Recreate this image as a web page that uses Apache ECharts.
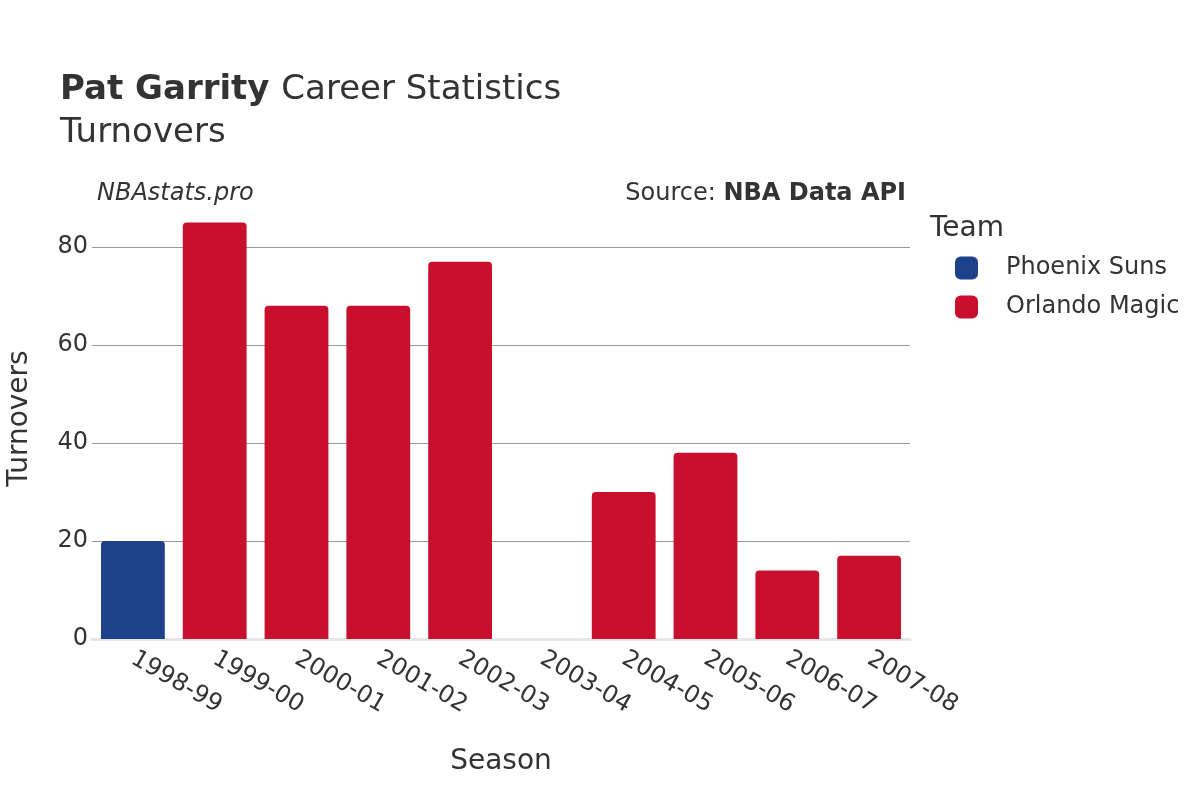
<!DOCTYPE html>
<html>
<head>
<meta charset="utf-8">
<script src="https://cdn.jsdelivr.net/npm/echarts@6/dist/echarts.min.js"></script>
<style>
html,body{margin:0;padding:0;background:#fff;}
#chart{width:1200px;height:800px;}
</style>
</head>
<body>
<div id="chart"></div>
<script>
const seasons = ['1998-99','1999-00','2000-01','2001-02','2002-03','2003-04','2004-05','2005-06','2006-07','2007-08'];
const phoenixSuns = [20, null, null, null, null, null, null, null, null, null];
const orlandoMagic = [null, 85, 68, 68, 77, null, 30, 38, 14, 17];
const yTicks = [0, 20, 40, 60, 80];

const FONT = 'DejaVu Sans';
const TXT = '#333333';

const chart = echarts.init(document.getElementById('chart'));
chart.setOption({
  backgroundColor: '#ffffff',
  animation: false,
  textStyle: { fontFamily: FONT },
  title: [
    {
      left: 60, top: 73, padding: 0,
      text: '{b|Pat Garrity }{n|Career Statistics}',
      textStyle: {
        fontWeight: 'normal',
        rich: {
          b: { fontFamily: FONT, fontSize: 34, fontWeight: 'bold', color: TXT },
          n: { fontFamily: FONT, fontSize: 34, fontWeight: 'normal', color: TXT }
        }
      }
    },
    {
      left: 60, top: 116, padding: 0,
      text: 'Turnovers',
      textStyle: { fontFamily: FONT, fontSize: 34, fontWeight: 'normal', color: TXT }
    },
    {
      left: 97, top: 182, padding: 0,
      text: 'NBAstats.pro',
      textStyle: { fontFamily: FONT, fontSize: 24, fontStyle: 'italic', fontWeight: 'normal', color: TXT }
    },
    {
      right: 294, top: 182, padding: 0,
      text: '{n|Source: }{b|NBA Data API}',
      textStyle: {
        fontWeight: 'normal',
        rich: {
          n: { fontFamily: FONT, fontSize: 24, fontWeight: 'normal', color: TXT },
          b: { fontFamily: FONT, fontSize: 24, fontWeight: 'bold', color: TXT }
        }
      }
    },
    {
      left: 930, top: 215, padding: 0,
      text: 'Team',
      textStyle: { fontFamily: FONT, fontSize: 28, fontWeight: 'normal', color: TXT }
    }
  ],
  legend: {
    orient: 'vertical',
    left: 955, top: 256, padding: 0,
    itemWidth: 23, itemHeight: 23, itemGap: 15,
    icon: 'roundRect',
    textStyle: { fontFamily: FONT, fontSize: 24, color: TXT, padding: [0, 0, 0, 23] },
    data: ['Phoenix Suns', 'Orlando Magic']
  },
  grid: { left: 92, right: 290, top: 198, bottom: 161, containLabel: false, outerBoundsMode: 'none' },
  xAxis: {
    type: 'category',
    data: seasons,
    name: 'Season',
    nameLocation: 'middle',
    nameGap: 109,
    nameTextStyle: { fontFamily: FONT, fontSize: 28, color: TXT },
    axisLine: { show: true, lineStyle: { color: '#e6e6e6', width: 3 } },
    axisTick: { show: false },
    axisLabel: { rotate: -30, fontFamily: FONT, fontSize: 24, color: TXT, margin: 18 }
  },
  yAxis: {
    type: 'value',
    min: 0, max: 90, interval: 20,
    name: 'Turnovers',
    nameLocation: 'middle',
    nameGap: 58,
    nameTextStyle: { fontFamily: FONT, fontSize: 28, color: TXT },
    axisLine: { show: false },
    axisTick: { show: false },
    axisLabel: {
      fontFamily: FONT, fontSize: 24, color: TXT, margin: 4, showMaxLabel: false,
      formatter: v => (yTicks.indexOf(v) >= 0 ? String(v) : '')
    },
    splitLine: { show: true, showMaxLine: false, showMinLine: false, lineStyle: { color: '#999999', width: 1 } }
  },
  series: [
    {
      name: 'Phoenix Suns', type: 'bar', stack: 'team',
      data: phoenixSuns,
      barWidth: '78%',
      itemStyle: { color: '#1d428a', borderRadius: [4, 4, 0, 0] }
    },
    {
      name: 'Orlando Magic', type: 'bar', stack: 'team',
      data: orlandoMagic,
      barWidth: '78%',
      itemStyle: { color: '#c8102e', borderRadius: [4, 4, 0, 0] }
    }
  ]
});
</script>
</body>
</html>
